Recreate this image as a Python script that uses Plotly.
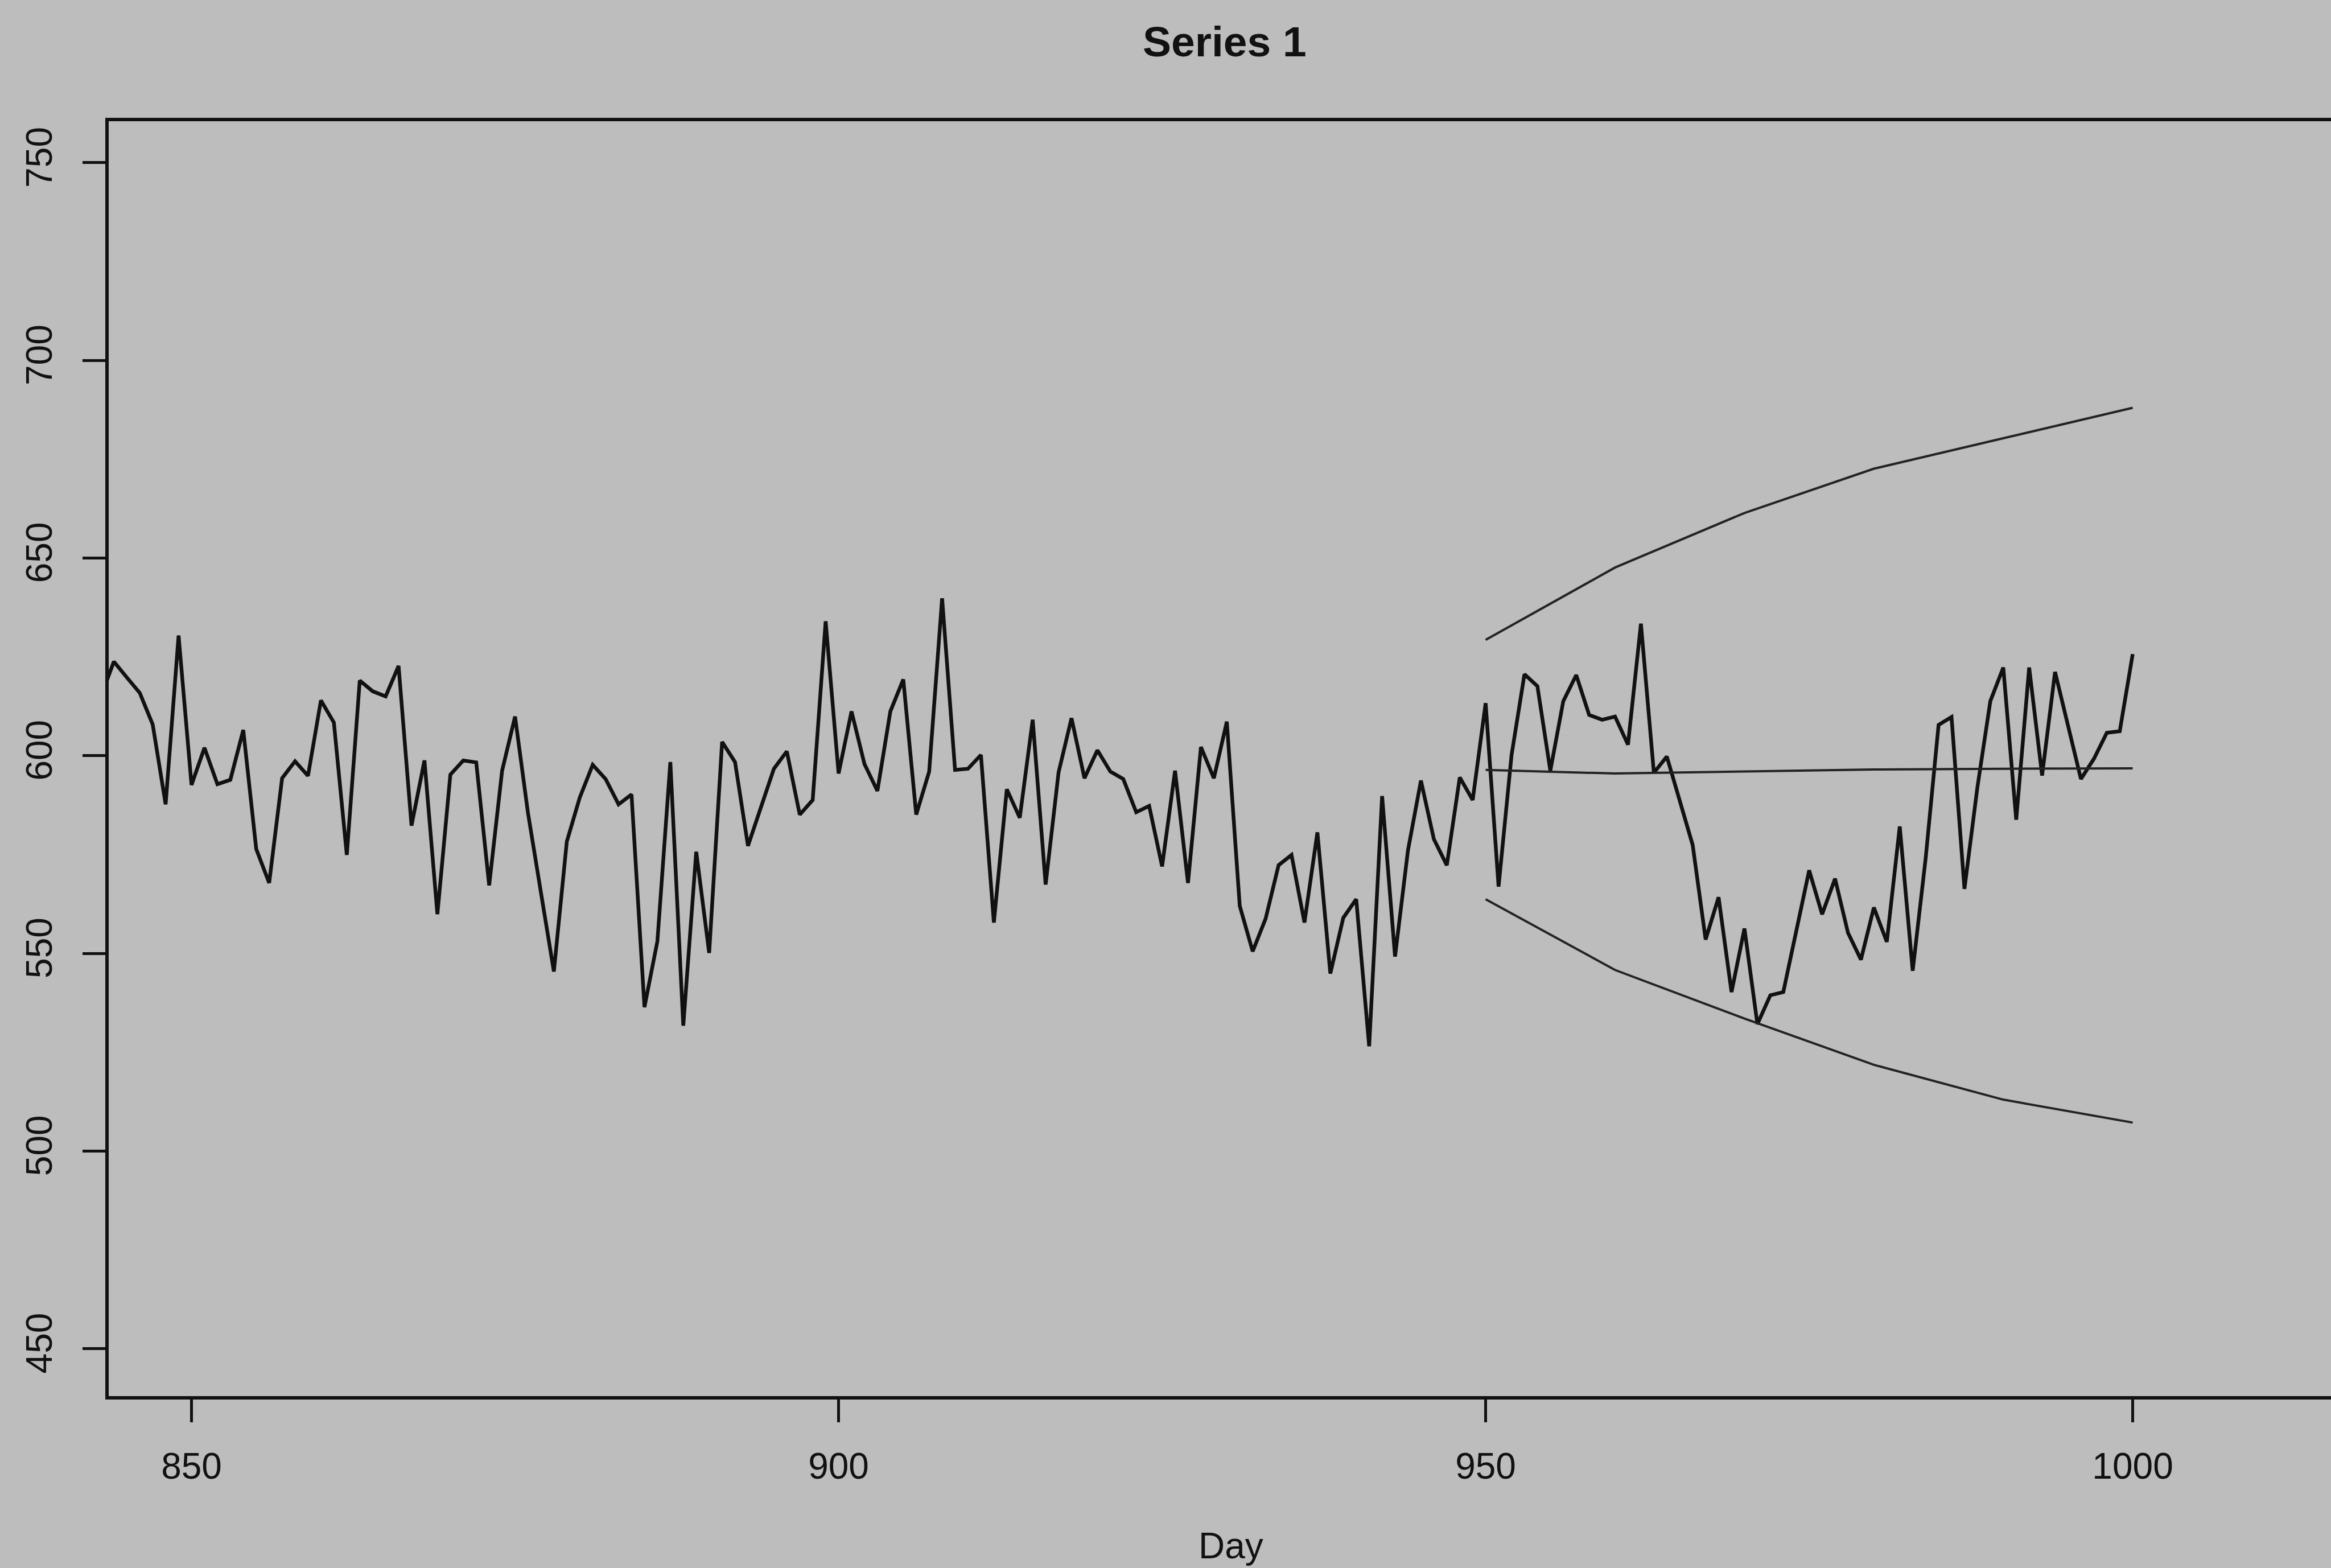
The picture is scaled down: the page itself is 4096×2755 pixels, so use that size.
import plotly.graph_objects as go

# ---- data -------------------------------------------------------------
days = list(range(843, 1001))
series_1 = [
    615.0, 623.8, 619.8, 615.9, 607.9, 587.7, 630.4, 592.6, 602.0, 592.8,   # 843-852
    593.9, 606.5, 576.4, 567.8, 594.3, 598.6, 594.9, 614.0, 608.4, 574.9,   # 853-862
    619.0, 616.3, 615.0, 622.7, 582.3, 598.8, 559.9, 595.2, 598.8, 598.3,   # 863-872
    567.2, 596.2, 609.9, 585.5, 565.4, 545.4, 578.3, 589.4, 597.7, 594.1,   # 873-882
    587.7, 590.2, 536.4, 553.1, 598.4, 531.7, 575.7, 550.1, 603.5, 598.4,   # 883-892
    577.2, 587.0, 596.7, 601.1, 585.1, 588.8, 634.0, 595.5, 611.2, 597.9,   # 893-902
    591.1, 611.2, 619.3, 585.1, 596.0, 639.8, 596.4, 596.7, 600.2, 557.8,   # 903-912
    591.5, 584.3, 609.1, 567.4, 595.8, 609.5, 594.3, 601.4, 596.0, 594.1,   # 913-922
    585.7, 587.3, 572.0, 596.2, 567.8, 602.2, 594.3, 608.6, 562.0, 550.5,   # 923-932
    558.8, 572.3, 574.9, 557.8, 580.6, 544.9, 559.0, 563.7, 526.5, 589.8,   # 933-942
    549.2, 576.1, 593.7, 578.9, 572.3, 594.5, 588.8, 613.3, 566.9, 600.1,   # 943-952
    620.6, 617.6, 596.2, 613.8, 620.4, 610.3, 609.1, 609.9, 602.8, 633.4,   # 953-962
    595.7, 599.8, 589.0, 577.4, 553.5, 564.2, 540.2, 556.3, 532.1, 539.4,   # 963-972
    540.2, 555.5, 571.0, 559.9, 568.9, 555.2, 548.4, 561.6, 552.9, 582.1,   # 973-982
    545.6, 574.0, 607.8, 609.8, 566.3, 592.0, 613.8, 622.3, 583.8, 622.3,   # 983-992
    595.0, 621.2, 608.0, 594.1, 599.2, 605.8, 606.2, 625.7,                 # 993-1000
]

forecast_days = [950, 960, 970, 980, 990, 1000]
forecast_mean = [596.4, 595.5, 596.0, 596.5, 596.7, 596.8]
forecast_upper = [629.3, 647.6, 661.4, 672.6, 680.3, 688.0]
forecast_lower = [563.7, 545.8, 533.5, 521.8, 513.0, 507.2]

x_ticks = [850, 900, 950, 1000]
y_ticks = [450, 500, 550, 600, 650, 700, 750]

# ---- layout geometry (pixels) ------------------------------------------
W, H = 4096, 2755
M_L, M_R, M_T, M_B = 191, 0, 213, 302
PLOT_W = W - M_L - M_R
PLOT_H = H - M_T - M_B


def px_to_paper_x(px):
    return (px - M_L) / PLOT_W


def px_to_paper_y(py):
    return (H - M_B - py) / PLOT_H


INK = "#111111"
BG = "#bdbdbd"
FONT = "Liberation Sans, Arial, Helvetica, sans-serif"

fig = go.Figure()

fig.add_trace(go.Scatter(
    x=days, y=series_1, mode="lines",
    line=dict(color=INK, width=6.5), showlegend=False,
))
for band in (forecast_upper, forecast_mean, forecast_lower):
    fig.add_trace(go.Scatter(
        x=forecast_days, y=band, mode="lines",
        line=dict(color="#232323", width=4), showlegend=False,
    ))

axis_common = dict(
    showgrid=False, zeroline=False, showline=True,
    linecolor=INK, linewidth=6,
    ticks="outside", ticklen=40, tickwidth=4.5, tickcolor=INK,
    tickfont=dict(family=FONT, size=64, color=INK),
    automargin=False,
)

fig.update_xaxes(
    range=[843.6, 843.6 + PLOT_W / 22.74],
    tickvals=x_ticks, ticktext=[str(v) for v in x_ticks],
    mirror=True, ticklabelstandoff=22,
    **axis_common,
)
fig.update_yaxes(
    range=[438, 760.5],
    tickvals=y_ticks, ticktext=[str(v) for v in y_ticks],
    tickangle=-90, ticklabelstandoff=28,
    **axis_common,
)

fig.add_annotation(
    text="<b>Series 1</b>", xref="paper", yref="paper",
    x=px_to_paper_x(2152), y=px_to_paper_y(73),
    xanchor="center", yanchor="middle", showarrow=False,
    font=dict(family=FONT, size=75, color=INK),
)
fig.add_annotation(
    text="Day", xref="paper", yref="paper",
    x=px_to_paper_x(2163), y=px_to_paper_y(2716),
    xanchor="center", yanchor="middle", showarrow=False,
    font=dict(family=FONT, size=64, color=INK),
)

fig.update_layout(
    width=W, height=H,
    margin=dict(l=M_L, r=M_R, t=M_T, b=M_B, pad=0),
    paper_bgcolor=BG, plot_bgcolor=BG,
    showlegend=False,
)

fig.write_html("out.html")
